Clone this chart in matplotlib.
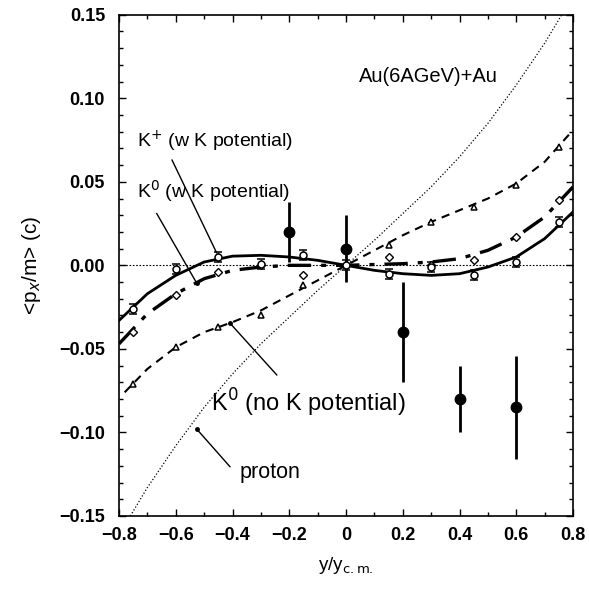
import numpy as np
import matplotlib
matplotlib.use("Agg")
import matplotlib.pyplot as plt

plt.rcParams['font.family'] = ['Liberation Sans', 'DejaVu Sans']

# measured data (filled circles)
exp_x = [-0.2, 0.0, 0.2, 0.4, 0.6]
exp_y = [0.020, 0.010, -0.040, -0.080, -0.085]
exp_err = [0.018, 0.020, 0.030, 0.020, 0.031]

# model points
pt_x = [-0.75, -0.6, -0.45, -0.3, -0.15, 0.0, 0.15, 0.3, 0.45, 0.6, 0.75]
kplus_pts = [-0.026, -0.002, 0.005, 0.001, 0.006, 0.0, -0.005, -0.001, -0.006, 0.002, 0.026]
k0w_pts = [-0.040, -0.018, -0.004, 0.000, -0.006, 0.0, 0.005, 0.000, 0.003, 0.017, 0.039]
k0n_pts = [-0.071, -0.049, -0.037, -0.030, -0.012, 0.0, 0.012, 0.026, 0.035, 0.048, 0.071]

# curves
cx = [-0.8, -0.7, -0.6, -0.5, -0.4, -0.3, -0.2, -0.1, 0.0, 0.1, 0.2, 0.3, 0.4, 0.5, 0.6, 0.7, 0.8]
kplus_curve = [-0.033, -0.017, -0.006, 0.002, 0.0055, 0.006, 0.005, 0.003, 0.0, -0.003, -0.005, -0.006, -0.005, -0.001, 0.005, 0.016, 0.032]
k0w_curve = [-0.047, -0.029, -0.017, -0.008, -0.003, -0.001, 0.0, 0.0, 0.0, 0.0005, 0.001, 0.002, 0.004, 0.009, 0.017, 0.029, 0.047]
k0n_x = [-0.78, -0.7, -0.6, -0.5, -0.4, -0.3, -0.2, -0.1, 0.0, 0.1, 0.2, 0.3, 0.4, 0.5, 0.6, 0.7, 0.8]
k0n_curve = [-0.076, -0.062, -0.049, -0.040, -0.034, -0.027, -0.018, -0.009, 0.0, 0.009, 0.018, 0.026, 0.033, 0.040, 0.049, 0.062, 0.081]
proton_x = [-0.76, -0.7, -0.6, -0.5, -0.4, -0.3, -0.2, -0.1, 0.0, 0.1, 0.2, 0.3, 0.4, 0.5, 0.6, 0.7, 0.76]
proton_y = [-0.150, -0.133, -0.108, -0.085, -0.065, -0.047, -0.031, -0.015, 0.0, 0.015, 0.031, 0.047, 0.065, 0.085, 0.108, 0.133, 0.150]

fig = plt.figure(figsize=(5.89, 5.89), dpi=100)
ax = fig.add_axes([0.202, 0.124, 0.771, 0.851])

ax.axhline(0, color='black', lw=0.8, ls=(0, (1.5, 1.5)))
ax.plot(proton_x, proton_y, color='black', lw=0.9, ls=(0, (1, 1.6)))
ax.plot(cx, kplus_curve, color='black', lw=2.0, ls='-')
ax.plot(cx, k0w_curve, color='black', lw=2.4, ls=(0, (7, 3, 1.5, 3)))
ax.plot(k0n_x, k0n_curve, color='black', lw=1.5, ls=(0, (4, 3)))

ax.errorbar(pt_x, kplus_pts, yerr=0.003, fmt='o', mfc='white', mec='black', ecolor='black',
            ms=5, mew=1.1, capsize=3, elinewidth=1.0, capthick=1.5)
ax.plot(pt_x, k0w_pts, 'D', mfc='white', mec='black', ms=4.5, mew=1.0)
ax.plot(pt_x, k0n_pts, '^', mfc='white', mec='black', ms=5, mew=1.1)

ax.errorbar(exp_x, exp_y, yerr=exp_err, fmt='o', color='black', ms=7.5, elinewidth=2.0, capsize=0)

# labels and pointer lines
ax.text(0.045, 0.113, 'Au(6AGeV)+Au', fontsize=14.5, va='center')
ax.text(-0.735, 0.074, 'K$^{+}$ (w K potential)', fontsize=14, va='center')
ax.text(-0.735, 0.0446, 'K$^{0}$ (w K potential)', fontsize=14, va='center')
ax.text(-0.475, -0.0823, 'K$^{0}$ (no K potential)', fontsize=17, va='center')
ax.text(-0.375, -0.124, 'proton', fontsize=15.5, va='center')

ax.plot([-0.613, -0.456], [0.063, 0.0075], color='black', lw=1.0)
ax.plot([-0.667, -0.526], [0.031, -0.0107], color='black', lw=1.0)
ax.plot([-0.526], [-0.0107], 'o', color='black', ms=2.5)
ax.plot([-0.409, -0.244], [-0.0346, -0.0656], color='black', lw=1.0)
ax.plot([-0.409], [-0.0346], 'o', color='black', ms=2.5)
ax.plot([-0.526, -0.409], [-0.098, -0.1205], color='black', lw=1.0)
ax.plot([-0.526], [-0.098], 'o', color='black', ms=2.5)

ax.set_xlim(-0.8, 0.8)
ax.set_ylim(-0.15, 0.15)
ax.set_xticks(np.arange(-0.8, 0.81, 0.2))
ax.set_xticklabels(['\u22120.8', '\u22120.6', '\u22120.4', '\u22120.2', '0', '0.2', '0.4', '0.6', '0.8'],
                   fontweight='bold')
ax.set_xticks(np.arange(-0.8, 0.81, 0.1), minor=True)
ax.set_yticks(np.arange(-0.15, 0.151, 0.05))
ax.set_yticklabels(['\u22120.15', '\u22120.10', '\u22120.05', '0.00', '0.05', '0.10', '0.15'],
                   fontweight='bold')
ax.set_yticks(np.arange(-0.15, 0.151, 0.01), minor=True)
ax.tick_params(which='both', direction='in', top=True, right=True, labelsize=13, width=1.0)
ax.tick_params(which='major', length=5)
ax.tick_params(which='minor', length=3)
ax.tick_params(axis='x', pad=8)
ax.tick_params(axis='y', pad=10)
for s in ax.spines.values():
    s.set_linewidth(1.2)

ax.set_xlabel('y/y$_{\\rm c.m.}$', fontsize=13.5, labelpad=8)
ax.set_ylabel('<p$_{x}$/m> (c)', fontsize=15, labelpad=12)

fig.savefig('out.png', dpi=100)
